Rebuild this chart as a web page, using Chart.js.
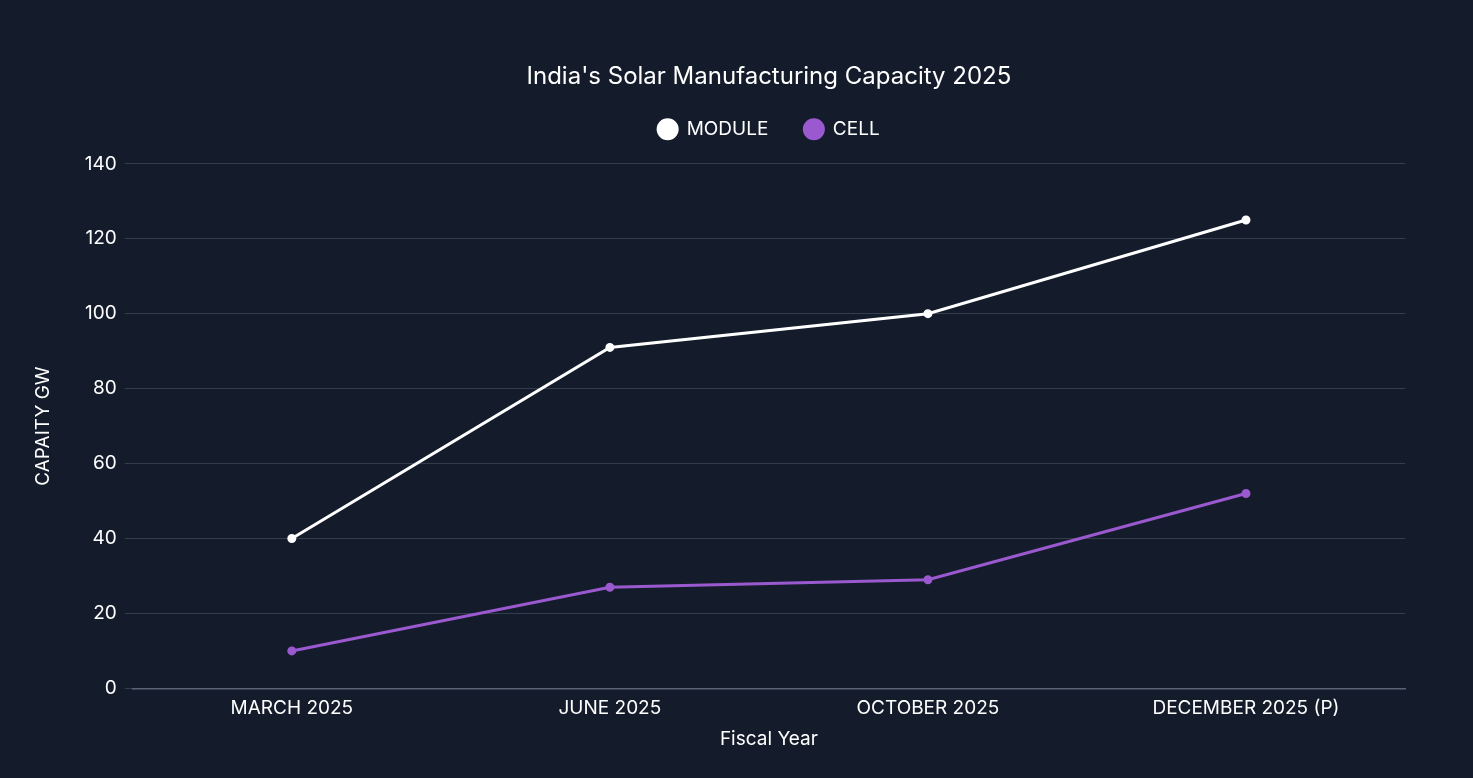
<!DOCTYPE html>
<html>
<head>
<meta charset="utf-8">
<script src="https://cdn.jsdelivr.net/npm/chart.js@4.4.1/dist/chart.umd.min.js"></script>
<style>
  html, body { margin: 0; padding: 0; background: #141c2c; }
  #wrap { width: 1473px; height: 778px; position: relative; }
</style>
</head>
<body>
<div id="wrap"><canvas id="grafico"></canvas></div>
<script>
// Datos del gráfico
const categorias = ['MARCH 2025', 'JUNE 2025', 'OCTOBER 2025', 'DECEMBER 2025 (P)'];
const modulo = [40, 91, 100, 125];
const celda = [10, 27, 29, 52];
const ticksY = [0, 20, 40, 60, 80, 100, 120, 140];

const fuente = 'Inter, "Noto Sans", sans-serif';
const blanco = '#ffffff';
const violeta = '#9b59d0';

// Espacio extra debajo de la leyenda
const espacioLeyenda = {
    id: 'espacioLeyenda',
    beforeInit(chart) {
        const fitOriginal = chart.legend.fit;
        chart.legend.fit = function () {
            fitOriginal.bind(chart.legend)();
            this.height += 15;
        };
    }
};

const ctx = document.getElementById('grafico').getContext('2d');
new Chart(ctx, {
    type: 'line',
    data: {
        labels: categorias,
        datasets: [
            {
                label: 'MODULE',
                data: modulo,
                borderColor: blanco,
                backgroundColor: blanco,
                borderWidth: 3,
                pointRadius: 3,
                tension: 0
            },
            {
                label: 'CELL',
                data: celda,
                borderColor: violeta,
                backgroundColor: violeta,
                borderWidth: 3,
                pointRadius: 3,
                tension: 0
            }
        ]
    },
    options: {
        responsive: true,
        maintainAspectRatio: false,
        animation: false,
        layout: { padding: { top: 50, left: 28, right: 68, bottom: 23 } },
        plugins: {
            title: {
                display: true,
                fullSize: false,
                text: "India's Solar Manufacturing Capacity 2025",
                color: blanco,
                font: { family: fuente, size: 24, weight: 'normal' },
                padding: { top: 12, bottom: -7 }
            },
            legend: {
                fullSize: false,
                labels: {
                    color: blanco,
                    usePointStyle: true,
                    pointStyle: 'circle',
                    boxWidth: 19,
                    boxHeight: 13.5,
                    padding: 36,
                    font: { family: fuente, size: 19 }
                }
            },
            tooltip: { enabled: false }
        },
        scales: {
            x: {
                offset: true,
                grid: { display: false },
                border: { color: '#5a6474', width: 1.5 },
                ticks: { color: blanco, font: { family: fuente, size: 19 }, padding: 0 },
                title: {
                    display: true,
                    text: 'Fiscal Year',
                    color: blanco,
                    font: { family: fuente, size: 19 },
                    padding: { top: 9 }
                }
            },
            y: {
                min: 0,
                max: 140,
                afterBuildTicks: (eje) => { eje.ticks = ticksY.map(v => ({ value: v })); },
                grid: { color: '#343d4c', drawTicks: true, tickLength: 8 },
                border: { display: false },
                ticks: { color: blanco, font: { family: fuente, size: 19 }, padding: 8 },
                title: {
                    display: true,
                    text: 'CAPAITY GW',
                    color: blanco,
                    font: { family: fuente, size: 19 },
                    padding: { bottom: 22 }
                }
            }
        }
    },
    plugins: [espacioLeyenda]
});
</script>
</body>
</html>
